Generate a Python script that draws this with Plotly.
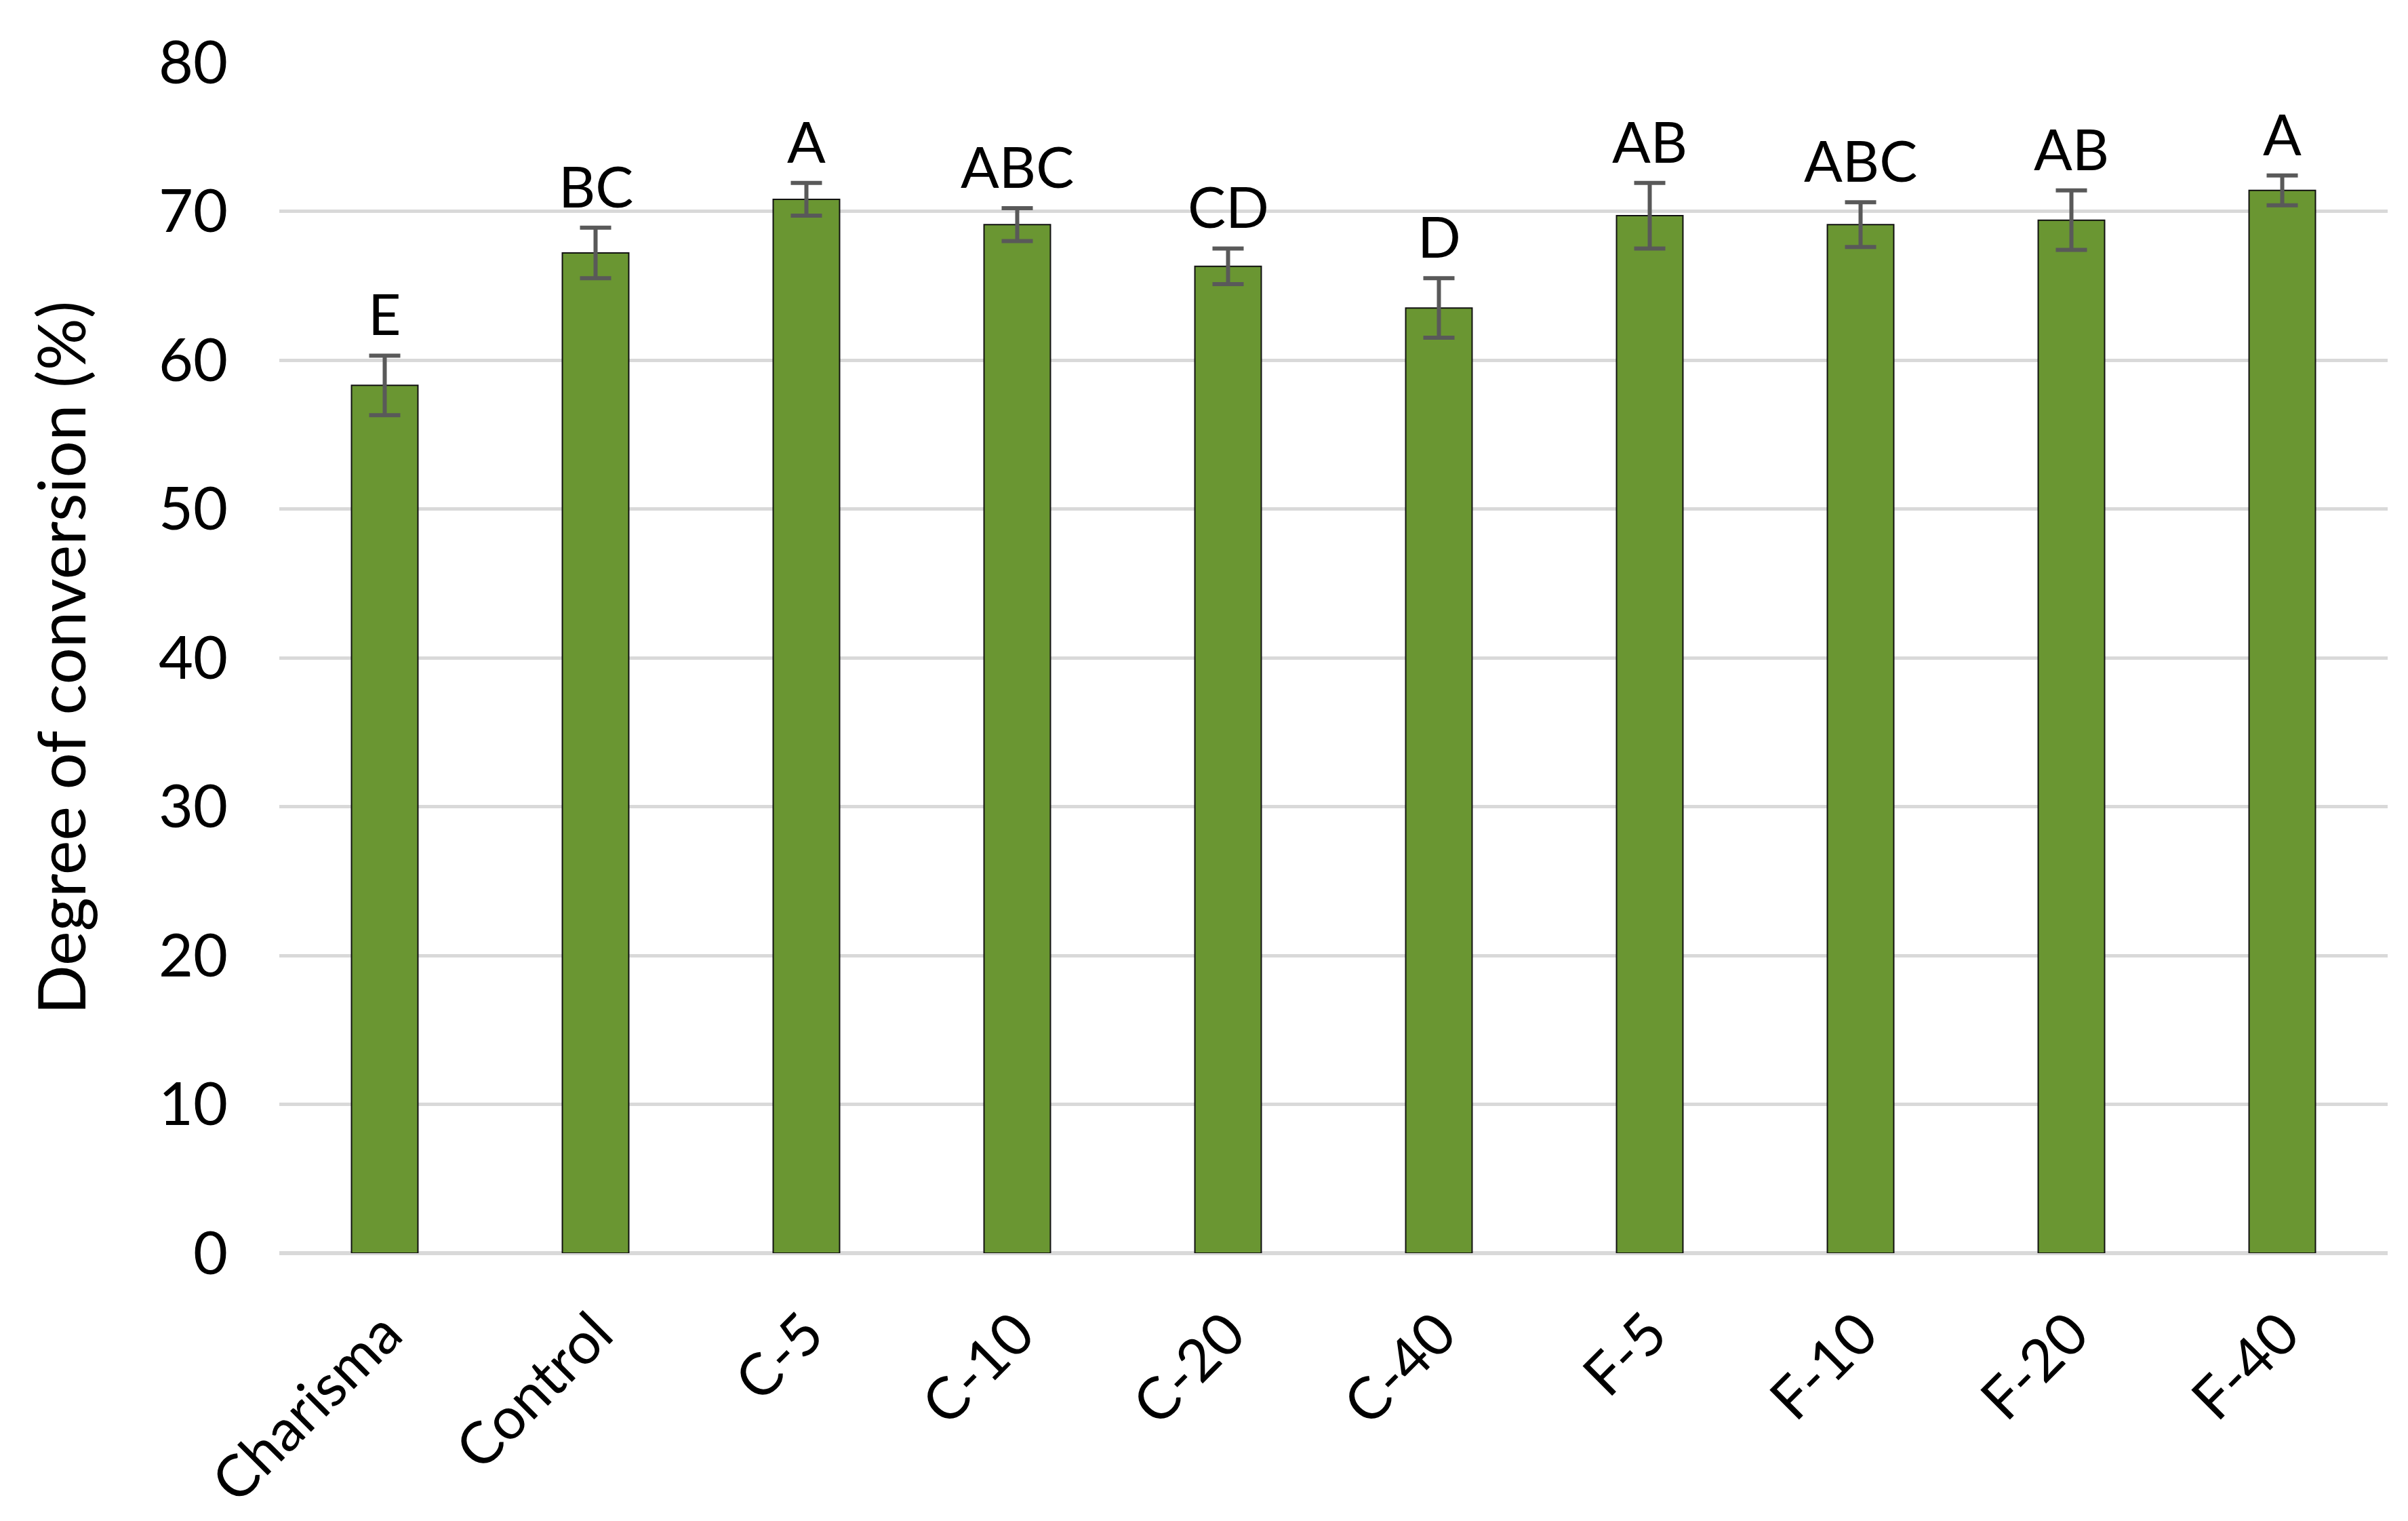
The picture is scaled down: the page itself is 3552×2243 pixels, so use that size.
import plotly.graph_objects as go

groups = ["Charisma", "Control", "C-5", "C-10", "C-20", "C-40", "F-5", "F-10", "F-20", "F-40"]
conversion = [58.3, 67.2, 70.8, 69.1, 66.3, 63.5, 69.7, 69.1, 69.4, 71.4]
sd = [2.0, 1.7, 1.1, 1.1, 1.2, 2.0, 2.2, 1.5, 2.0, 1.0]
letters = ["E", "BC", "A", "ABC", "CD", "D", "AB", "ABC", "AB", "A"]

font_family = "Lato"

fig = go.Figure()
fig.add_trace(go.Bar(
    x=groups,
    y=conversion,
    width=0.315,
    marker=dict(color="#6a9632", line=dict(color="#111111", width=2)),
    error_y=dict(type="data", array=sd, visible=True, color="#595959", thickness=6, width=23),
))

# significance letters above the error bars
for g, m, s, t in zip(groups, conversion, sd, letters):
    fig.add_annotation(x=g, y=m + s, text=t, showarrow=False, yanchor="bottom", yshift=10,
                       font=dict(family=font_family, size=84, color="black"))

fig.update_layout(
    width=3552,
    height=2243,
    template="plotly_white",
    plot_bgcolor="white",
    paper_bgcolor="white",
    showlegend=False,
    margin=dict(l=404, r=38, t=84, b=403),
    font=dict(family=font_family, size=86, color="black"),
)
fig.update_yaxes(
    range=[0, 80],
    dtick=10,
    showgrid=True,
    gridcolor="#d9d9d9",
    gridwidth=5,
    zeroline=True,
    zerolinecolor="#d9d9d9",
    zerolinewidth=6,
    showline=False,
    ticks="",
    ticklabelstandoff=75,
    title=dict(text="Degree of conversion (%)", standoff=75, font=dict(size=96)),
    tickfont=dict(size=88),
)
fig.update_xaxes(
    tickangle=-45,
    showgrid=False,
    showline=False,
    ticks="",
    ticklabelstandoff=50,
    tickfont=dict(size=86),
)

fig.write_html("out.html")
